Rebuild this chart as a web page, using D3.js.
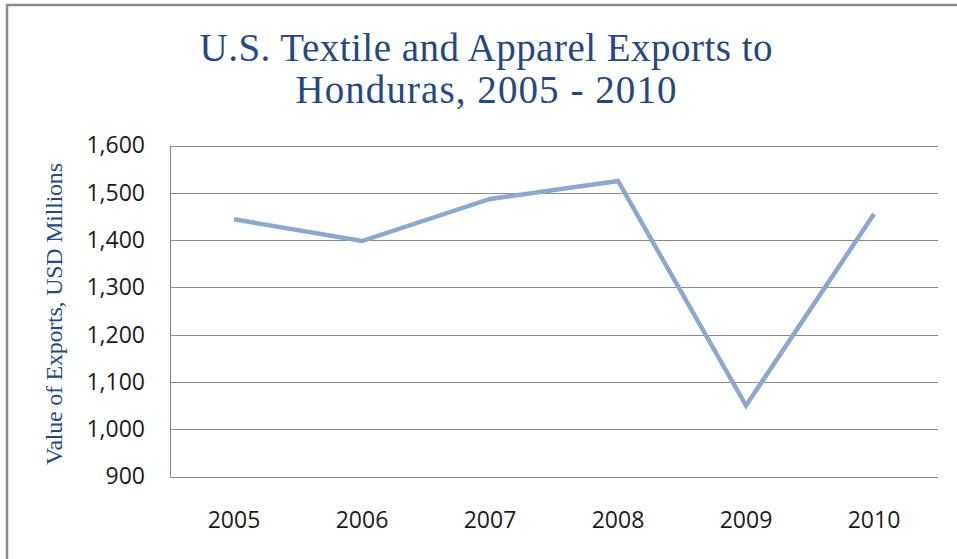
<!DOCTYPE html>
<html><head><meta charset="utf-8">
<script src="https://cdn.jsdelivr.net/npm/d3@7"></script>
<style>body{margin:0;background:#fff;} svg{display:block;}</style>
</head><body>
<svg id="chart" width="957" height="559"></svg>
<script>
const categories = ["2005","2006","2007","2008","2009","2010"];
const values = [1444, 1398, 1487, 1525, 1050, 1455];
const yTicks = [900,1000,1100,1200,1300,1400,1500,1600];
const titleLines = ["U.S. Textile and Apparel Exports to", "Honduras, 2005 - 2010"];
const yTitle = "Value of Exports, USD Millions";

const svg = d3.select("#chart");
const W = 957, H = 559;
const m = {left:170, right:938, top:145.5, bottom:476.5};

svg.append("rect").attr("x",0).attr("y",0).attr("width",W).attr("height",H).attr("fill","#fff");
// outer border
svg.append("rect").attr("x",7).attr("y",5).attr("width",W+20).attr("height",H+20)
  .attr("fill","none").attr("stroke","#8c8c8c").attr("stroke-width",2.5);

const x = d3.scaleBand().domain(categories).range([m.left, m.right]);
const y = d3.scaleLinear().domain([900,1600]).range([m.bottom, m.top]);

// gridlines
svg.append("g").selectAll("line").data(yTicks).join("line")
  .attr("x1",m.left).attr("x2",m.right)
  .attr("y1",d=>Math.round(y(d))+0.5).attr("y2",d=>Math.round(y(d))+0.5)
  .attr("stroke","#8a8a8a").attr("stroke-width",1.2);
// y axis line
svg.append("line").attr("x1",m.left+0.5).attr("x2",m.left+0.5).attr("y1",m.top).attr("y2",m.bottom)
  .attr("stroke","#8a8a8a").attr("stroke-width",1.2);

const fmt = d3.format(",");
const yAxis = d3.axisLeft(y).tickValues(yTicks).tickFormat(fmt).tickSize(0).tickPadding(25);
const gy = svg.append("g").attr("transform",`translate(${m.left},0)`).call(yAxis);
gy.select(".domain").remove();
gy.selectAll("text").attr("font-family","'Open Sans', sans-serif").attr("font-size",23).attr("fill","#1a1a1a");

const xAxis = d3.axisBottom(x).tickSize(0).tickPadding(35);
const gx = svg.append("g").attr("transform",`translate(0,${m.bottom})`).call(xAxis);
gx.select(".domain").remove();
gx.selectAll("text").attr("font-family","'Open Sans', sans-serif").attr("font-size",23).attr("fill","#1a1a1a");

// line
const line = d3.line().x((d,i)=>x(categories[i])+x.bandwidth()/2).y(d=>y(d));
svg.append("path").datum(values).attr("d",line).attr("fill","none")
  .attr("stroke","#8ea7cf").attr("stroke-width",4.5).attr("stroke-linejoin","miter");

// title
const titleWidths = [573, 381];
svg.append("g").selectAll("text").data(titleLines).join("text")
  .attr("x",486).attr("y",(d,i)=>61+i*42).attr("text-anchor","middle")
  .attr("font-family","'Liberation Serif', serif").attr("font-size",39).attr("fill","#25487f")
  .attr("textLength",(d,i)=>titleWidths[i]).attr("lengthAdjust","spacing")
  .text(d=>d);

// y title
svg.append("text").attr("transform","translate(62,314) rotate(-90)").attr("text-anchor","middle")
  .attr("font-family","'Liberation Serif', serif").attr("font-size",24).attr("fill","#25487f")
  .attr("textLength",302).attr("lengthAdjust","spacing")
  .text(yTitle);
</script>
</body></html>
